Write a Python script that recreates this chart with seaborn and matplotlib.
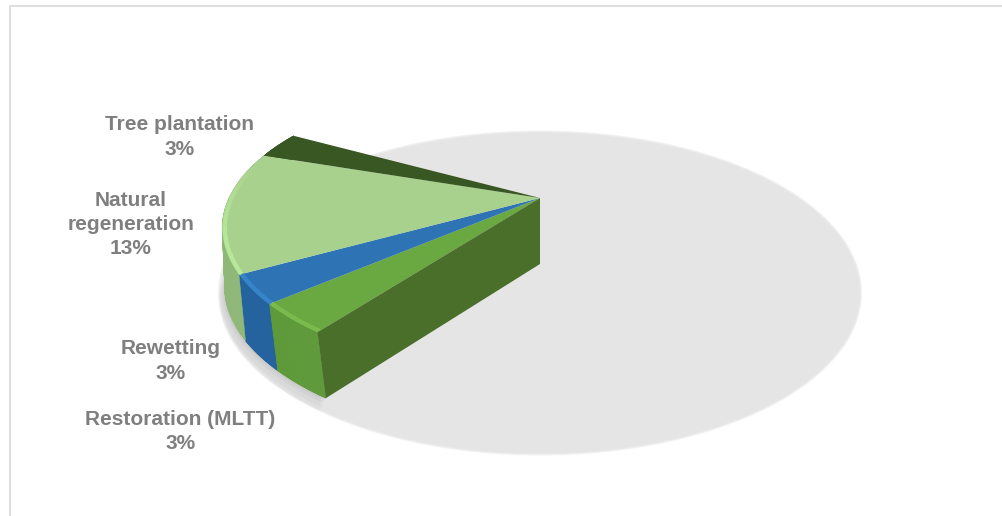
import numpy as np
import pandas as pd
import matplotlib
matplotlib.use("Agg")
import matplotlib.pyplot as plt
from matplotlib.collections import LineCollection
from matplotlib.colors import to_rgb
from matplotlib.patches import Ellipse
from matplotlib.transforms import Transform
import seaborn as sns

categories = ["Restoration (MLTT)", "Rewetting", "Natural\nregeneration", "Tree plantation", "Other"]
values = [3.4, 3.2, 13.45, 2.9, 77.05]
top_colors = ["#6aa841", "#2e74b5", "#a9d18e", "#385723", "#00000000"]
rim_colors = ["#5f9a3a", "#25639e", "#8fb878", "#385723", "#00000000"]
edge_colors = ["#7fc052", "#3a8bd2", "#b9ea9c", "#385723", "#00000000"]
face_color = "#4a6f2a"
label_texts = ["Restoration (MLTT)\n3%", "Rewetting\n3%", "Natural\nregeneration\n13%", "Tree plantation\n3%"]
label_xy = [(180.5, 431.5), (171, 361), (131, 224.5), (180, 137)]

df = pd.DataFrame({"category": categories, "value": values})

sns.set_theme(style="white")
plt.rcParams["font.family"] = ["Liberation Sans", "DejaVu Sans"]

W, H = 1002, 516
fig = plt.figure(figsize=(W / 100, H / 100), dpi=100)
ax = fig.add_axes([0, 0, 1, 1])

APEX = (540.0, 198.0)
DEPTH = 66.0
A, B, K = 311.0, 139.8, 0.2055
START = 233.3


class Tilt(Transform):
    """Perspective view of the unit pie disc, in pixel coordinates."""
    input_dims = output_dims = 2
    is_affine = False

    def __init__(self, xk=K, dy=0.0):
        super().__init__()
        self.xk, self.dy = xk, dy

    def transform_non_affine(self, values):
        v = np.asarray(values, dtype=float)
        return np.column_stack([
            APEX[0] + A * v[:, 0] / (1 + self.xk * v[:, 1]),
            APEX[1] + self.dy - B * v[:, 1] / (1 + K * v[:, 1]),
        ])


top = Tilt()
bottom = Tilt(xk=0.165, dy=DEPTH)

wedges, _ = ax.pie(df["value"], colors=top_colors, startangle=START, counterclock=False,
                   radius=1, wedgeprops={"linewidth": 0})
for w in wedges:
    w.set_transform(top + ax.transData)
    w.set_zorder(5)

ax.set_aspect("auto")
ax.set_xlim(0, W)
ax.set_ylim(H, 0)
ax.axis("off")

# floor shadow with a slightly soft edge
for grow, col in [(2, "#f2f2f2"), (1, "#ebebeb"), (0, "#e5e5e5")]:
    ax.add_patch(Ellipse((540, 293), 640 + 2 * grow, 321 + 2 * grow, fc=col, ec="none", zorder=1))

# rim facets
bounds = START - np.concatenate([[0], np.cumsum(df["value"])]) * 3.6
for i in range(4):
    t = np.radians(np.linspace(bounds[i], bounds[i + 1], 70))
    disc = np.column_stack([np.cos(t), np.sin(t)])
    p_top = top.transform_non_affine(disc)
    p_bot = bottom.transform_non_affine(disc)
    # soft contact shadow below the rim
    for grow, alpha in [(13, .05), (9, .06), (5, .08), (2, .10)]:
        ax.fill(np.r_[p_top[:, 0], p_bot[::-1, 0] - grow * .4],
                np.r_[p_top[:, 1], p_bot[::-1, 1] + grow],
                color="#808080", alpha=alpha, lw=0, zorder=2)
    # swept quads, so that the silhouette between both arcs is covered
    for j in range(len(t) - 1):
        ax.fill([p_top[j, 0], p_top[j + 1, 0], p_bot[j + 1, 0], p_bot[j, 0]],
                [p_top[j, 1], p_top[j + 1, 1], p_bot[j + 1, 1], p_bot[j, 1]],
                fc=rim_colors[i], ec=rim_colors[i], lw=.4, zorder=3)
    # bevel highlight just inside the upper edge, fading toward the back
    if i < 3:
        inner = top.transform_non_affine(disc * 0.992)
        segs = np.stack([inner[:-1], inner[1:]], axis=1)
        fade = np.clip((np.degrees(t[:-1]) - 165) / 30, 0, 1)
        rgba = np.column_stack([np.tile(to_rgb(edge_colors[i]), (len(segs), 1)), fade])
        ax.add_collection(LineCollection(segs, colors=rgba, linewidths=3.0, capstyle="butt", zorder=6))

# cut face of the first slice
t0 = np.radians(bounds[0])
d0 = np.array([[np.cos(t0), np.sin(t0)]])
p0_t, p0_b = top.transform_non_affine(d0)[0], bottom.transform_non_affine(d0)[0]
ax.fill([APEX[0], p0_t[0], p0_b[0], APEX[0]],
        [APEX[1], p0_t[1], p0_b[1], APEX[1] + DEPTH],
        color=face_color, lw=0, zorder=7)

for txt, (x, y) in zip(label_texts, label_xy):
    ax.text(x, y, txt, ha="center", va="center", fontsize=15, fontweight="bold",
            color="#7f7f7f", linespacing=1.36, zorder=8)

# chart-area frame (left and top edges visible)
ax.plot([10.5, 10.5, W], [H, 5.5, 5.5], color="#d9d9d9", lw=1.2, zorder=9)

fig.savefig("out.png", dpi=100)
